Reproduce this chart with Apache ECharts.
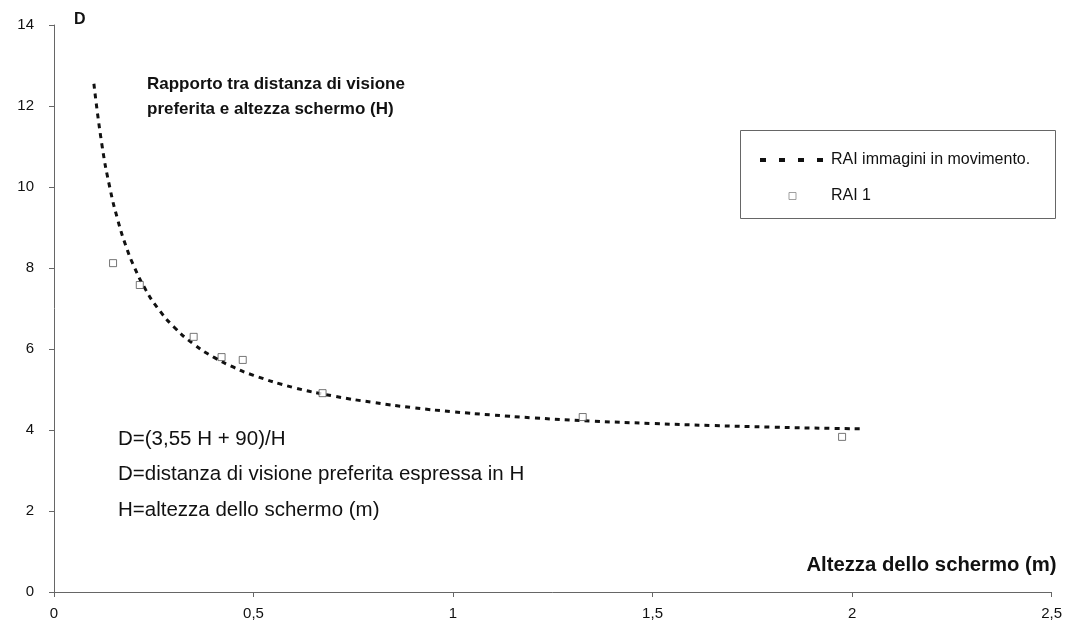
<!DOCTYPE html>
<html>
<head>
<meta charset="utf-8">
<script src="https://cdn.jsdelivr.net/npm/echarts@6/dist/echarts.min.js"></script>
<style>html,body{margin:0;padding:0;background:#fff}#c{width:1065px;height:633px}</style>
</head>
<body>
<div id="c"></div>
<script>
// Data
const xTicks = [0, 0.5, 1, 1.5, 2, 2.5];
const yTicks = [0, 2, 4, 6, 8, 10, 12, 14];
const curveH = [0.10, 0.12, 0.14, 0.16, 0.18, 0.20, 0.23, 0.26, 0.30, 0.35, 0.40, 0.45, 0.50, 0.60, 0.70, 0.80, 0.90, 1.00, 1.10, 1.20, 1.35, 1.50, 1.65, 1.80, 1.95, 2.03];
const curveD = [12.55, 11.05, 9.98, 9.18, 8.55, 8.05, 7.46, 7.01, 6.55, 6.12, 5.80, 5.55, 5.35, 5.05, 4.84, 4.68, 4.55, 4.45, 4.37, 4.30, 4.22, 4.16, 4.11, 4.07, 4.04, 4.03];
const raiH = [0.148, 0.215, 0.35, 0.42, 0.473, 0.673, 1.325, 1.975];
const raiD = [8.12, 7.58, 6.30, 5.80, 5.73, 4.91, 4.32, 3.83];
const seriesNames = ['RAI immagini in movimento.', 'RAI 1'];
const titleLines = ['Rapporto tra distanza di visione', 'preferita e altezza schermo (H)'];
const noteLines = ['D=(3,55 H + 90)/H', 'D=distanza di visione preferita espressa in H', 'H=altezza dello schermo (m)'];

const FF = "'Liberation Sans', Arial, sans-serif";
const SQUARE = 'path://M0,0L10,0L10,10L0,10Z';
const chart = echarts.init(document.getElementById('c'), null, {renderer: 'canvas'});
const fmt = v => String(v).replace('.', ',');

chart.setOption({
  backgroundColor: '#ffffff',
  animation: false,
  grid: {left: 54, right: 12, top: 25, bottom: 41, containLabel: false},
  xAxis: {
    type: 'value', min: xTicks[0], max: xTicks[xTicks.length - 1], interval: 0.5,
    name: 'Altezza dello schermo (m)', nameLocation: 'end', nameGap: 5,
    nameTextStyle: {fontFamily: FF, fontWeight: 'bold', fontSize: 20.3, color: '#111', align: 'right', verticalAlign: 'bottom', padding: [0, 0, 17, 0]},
    axisLine: {onZero: false, lineStyle: {color: '#666', width: 1}},
    axisTick: {show: true, length: 5, lineStyle: {color: '#666'}},
    axisLabel: {fontFamily: FF, fontSize: 15, color: '#111', margin: 14, formatter: fmt},
    splitLine: {show: false}
  },
  yAxis: {
    type: 'value', min: yTicks[0], max: yTicks[yTicks.length - 1], interval: 2,
    name: 'D', nameLocation: 'end', nameGap: 5,
    nameTextStyle: {fontFamily: FF, fontWeight: 'bold', fontSize: 16, color: '#111', align: 'left', verticalAlign: 'middle', padding: [0, 0, 0, 20]},
    axisLine: {show: true, lineStyle: {color: '#666', width: 1}},
    axisTick: {show: true, length: 5, lineStyle: {color: '#666'}},
    axisLabel: {fontFamily: FF, fontSize: 15, color: '#111', margin: 20},
    splitLine: {show: false}
  },
  legend: {
    orient: 'vertical', left: 753, top: 147,
    itemWidth: 65, itemHeight: 7, itemGap: 20,
    textStyle: {fontFamily: FF, fontSize: 16, color: '#111', padding: [0, 0, 0, 1]},
    data: [
      {name: seriesNames[0], itemStyle: {color: 'transparent', borderWidth: 0, opacity: 0}, lineStyle: {width: 4, type: [6, 13], color: '#111'}},
      {name: seriesNames[1], icon: SQUARE, itemStyle: {color: '#fff', borderColor: '#888', borderWidth: 1}}
    ]
  },
  graphic: [
    {type: 'rect', shape: {x: 740.5, y: 130.5, width: 315, height: 88}, style: {fill: 'none', stroke: '#666', lineWidth: 1}, z: 0},
    {type: 'text', left: 147, top: 76, style: {text: titleLines[0], font: 'bold 17px ' + FF, fill: '#111'}},
    {type: 'text', left: 147, top: 101, style: {text: titleLines[1], font: 'bold 17px ' + FF, fill: '#111'}},
    {type: 'text', left: 118, top: 429, style: {text: noteLines[0], font: '20.5px ' + FF, fill: '#111'}},
    {type: 'text', left: 118, top: 464, style: {text: noteLines[1], font: '20.5px ' + FF, fill: '#111'}},
    {type: 'text', left: 118, top: 500, style: {text: noteLines[2], font: '20.5px ' + FF, fill: '#111'}}
  ],
  series: [
    {
      name: seriesNames[0], type: 'line', smooth: true, symbol: 'none',
      itemStyle: {color: '#111'},
      lineStyle: {color: '#111', width: 3, type: [5, 5]},
      data: curveH.map((h, i) => [h, curveD[i]]), z: 2
    },
    {
      name: seriesNames[1], type: 'scatter', symbol: SQUARE, symbolSize: 7,
      itemStyle: {color: '#fff', borderColor: '#555', borderWidth: 1},
      data: raiH.map((h, i) => [h, raiD[i]]), z: 3
    }
  ]
});
</script>
</body>
</html>
